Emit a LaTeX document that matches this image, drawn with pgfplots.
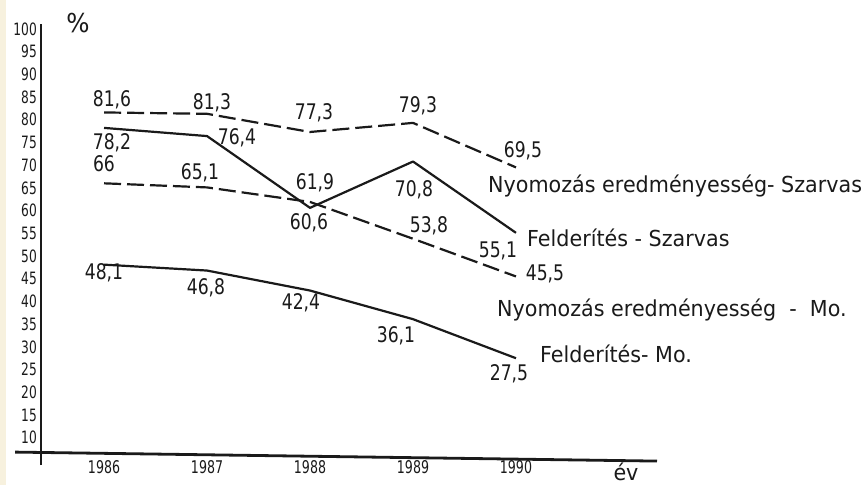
\documentclass[border=0pt]{standalone}
\usepackage{pgfplots}
\pgfplotsset{compat=1.18}
\usepackage{fontspec}
\setmainfont{DejaVu Sans}
\newfontfamily\tickfont[FakeStretch=0.72]{DejaVu Sans}
\newfontfamily\numfont[FakeStretch=0.8]{DejaVu Sans}
\newfontfamily\labfont[FakeStretch=0.94]{DejaVu Sans}
\definecolor{ink}{HTML}{1A1A1A}
\definecolor{scan}{HTML}{F7F1DE}
\begin{document}
\begin{tikzpicture}[x=1pt,y=1pt]
\fill[scan] (0,0) rectangle (6,485);
\begin{axis}[
  at={(41pt,20pt)}, anchor=south west, scale only axis,
  width=616pt, height=440.7pt,
  xmin=1985.388, xmax=1991.369, ymin=4, ymax=101,
  axis line style={draw=none},
  clip=false,
  xtick={1986,1987,1988,1989,1990},
  xticklabels={1986,1987,1988,1989,1990},
  ytick={10,15,20,25,30,35,40,45,50,55,60,65,70,75,80,85,90,95,100},
  yticklabels={10,15,20,25,30,35,40,45,50,55,60,65,70,75,80,85,90,95,100},
  major tick length=0pt,
  xticklabel style={font=\tickfont\fontsize{17.5}{17.5}\selectfont, anchor=base, yshift=-8pt, text=ink},
  yticklabel style={font=\tickfont\fontsize{17}{17}\selectfont, anchor=east, inner sep=0pt, xshift=-4pt, text=ink},
]
% axes lines (hand drawn)
\draw[ink, line width=2.4pt] (axis cs:1985.388,4) -- (axis cs:1985.388,101);
\draw[ink, line width=2.8pt] (axis cs:1985.136,6.84) -- (axis cs:1991.369,4.86);
% Nyomozás eredményesség - Szarvas
\addplot[ink, line width=2.2pt, dash pattern=on 17pt off 6pt, line join=round]
  coordinates {(1986,81.6)(1987,81.3)(1988,77.3)(1989,79.3)(1990,69.5)};
% Felderítés - Szarvas
\addplot[ink, line width=2.2pt, line join=round]
  coordinates {(1986,78.2)(1987,76.4)(1988,60.6)(1989,70.8)(1990,55.1)};
% Nyomozás eredményesség - Mo.
\addplot[ink, line width=2.2pt, dash pattern=on 17pt off 6pt, line join=round]
  coordinates {(1986,66)(1987,65.1)(1988,61.9)(1989,53.8)(1990,45.5)};
% Felderítés - Mo.
\addplot[ink, line width=2.2pt, line join=round]
  coordinates {(1986,48.1)(1987,46.8)(1988,42.4)(1989,36.1)(1990,27.5)};
\end{axis}
\begin{scope}[every node/.style={text=ink, inner sep=0pt}]
% data labels
\begin{scope}[every node/.append style={anchor=base, font=\numfont\fontsize{21.5}{21.5}\selectfont}]
\node at (112,378) {81,6};
\node at (212,375) {81,3};
\node at (314,365) {77,3};
\node at (418,372) {79,3};
\node at (523,327) {69,5};
\node at (112,335) {78,2};
\node at (237,340) {76,4};
\node at (309,255) {60,6};
\node at (414,288) {70,8};
\node at (498,227) {55,1};
\node at (104,313) {66};
\node at (200,305) {65,1};
\node at (315,295) {61,9};
\node at (429,252) {53,8};
\node at (545,204) {45,5};
\node at (104,205) {48,1};
\node at (206,190) {46,8};
\node at (301,175) {42,4};
\node at (396,142) {36,1};
\node at (509,104) {27,5};
\end{scope}
% series labels
\begin{scope}[every node/.append style={anchor=base west, font=\labfont\fontsize{22}{22}\selectfont}]
\node at (488,292) {Nyomozás eredményesség- Szarvas};
\node at (527,238) {Felderítés - Szarvas};
\node at (497,168) {Nyomozás eredményesség \ - \ Mo.};
\node at (540,122) {Felderítés- Mo.};
\end{scope}
\node[anchor=center, font=\labfont\fontsize{26}{26}\selectfont] at (78,462) {\%};
\node[anchor=base, font=\labfont\fontsize{22}{22}\selectfont] at (626,5) {év};
\end{scope}
\pgfresetboundingbox
\useasboundingbox (0,0) rectangle (865,485);
\end{tikzpicture}
\end{document}
